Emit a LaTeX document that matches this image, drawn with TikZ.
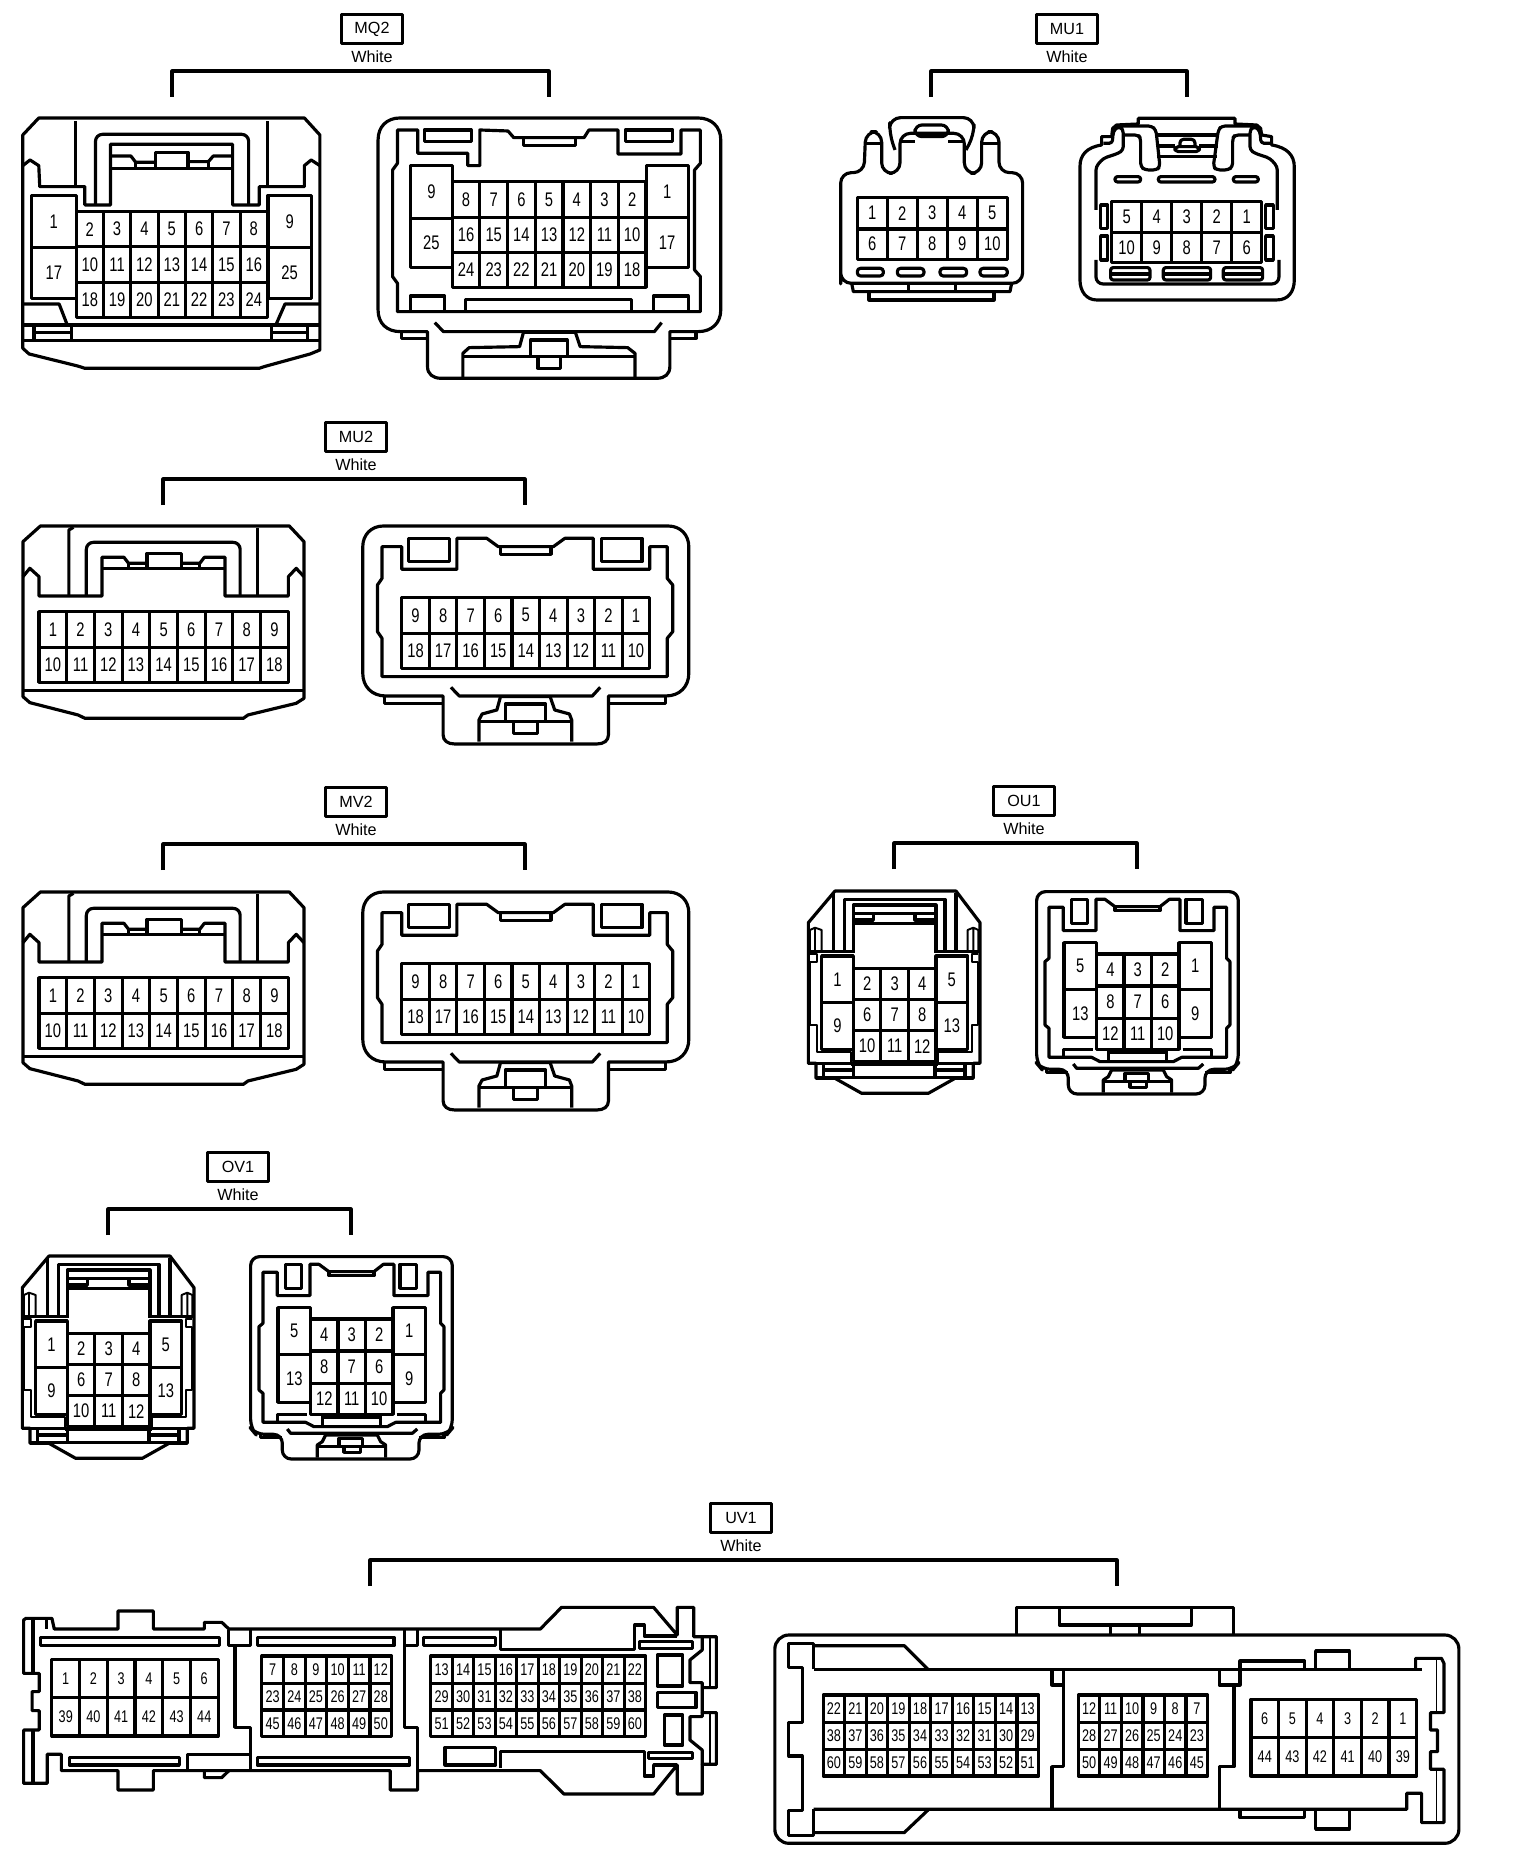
\documentclass[tikz,border=0pt]{standalone}
\usepackage{fontspec}
\setmainfont{Liberation Sans}
\newfontfamily\pinfont[FakeStretch=0.75]{Liberation Sans}
\usetikzlibrary{positioning}

\tikzset{
    pin/.style = {inner sep=0pt, font=\pinfont\fontsize{5.6pt}{6pt}\selectfont},
    smallpin/.style = {inner sep=0pt, font=\pinfont\fontsize{4.8pt}{5pt}\selectfont},
    tagbox/.style = {draw, minimum width=0.61cm, minimum height=0.29cm, inner sep=0pt, font=\fontsize{4.6pt}{5pt}\selectfont},
    tagnote/.style = {inner sep=0pt, font=\fontsize{4.6pt}{5pt}\selectfont},
    thinline/.style = {line width=0.55pt},
    mqtwo/.style = {xscale=0.4847, yscale=0.3333},
    mutwo/.style = {xscale=0.4592, yscale=0.3333},
    third/.style = {scale=0.3333},
    uvleft/.style = {xscale=0.4719, yscale=0.3333},
    uvright/.style = {xscale=0.4975, yscale=0.3333},
}

% one row of pin cells: x, y, cell width, cell height, pins
\newcommand{\pinrow}[5]{
    \foreach \p [count=\i from 0] in {#5}
        \draw ({#1+\i*#3},#2) rectangle ++(#3,#4) node[midway, pin] {\p};
}
% connector name, box x, box y, left end, right end
\newcommand{\conntag}[5]{
    \node[tagbox] (#1) at (#2,#3) {#1};
    \node[tagnote, below=1.1pt of #1.south] (#1note) {White};
    \coordinate (#1l) at (#4,#3+68);
    \coordinate (#1r) at (#5,#3+68);
    \draw (#1l) -- ++(0,-26) -| (#1r);
}

% MU2 and MV2 share these two
\newcommand{\nineplug}{
    \draw (88,318) -- (630,318) -- (662,365) -- (662,835) -- (645,850) -- (540,885) -- (530,895) -- (185,895) -- (170,885) -- (65,848) -- (50,830) -- (50,365) -- cycle;
    \draw (50,470) -- (65,445) -- (85,470) -- (85,528) -- (222,528) -- (222,412) -- (270,412) -- (280,430) -- (320,430);
    \draw (150,525) -- (150,330) -- (160,322);
    \draw (560,525) -- (560,325);
    \draw[rounded corners=2pt] (188,525) -- (188,367) -- (523,367) -- (523,525);
    \draw (320,445) -- (320,400) -- (395,400) -- (395,445);
    \draw (395,430) -- (435,430) -- (445,412) -- (490,412) -- (490,528) -- (628,528) -- (628,470) -- (645,445) -- (662,470);
    \draw (222,445) -- (490,445);
    \draw (280,430) -- (280,445) (435,430) -- (435,445);
    \pinrow{85}{575}{60.3}{107}{1,2,3,4,5,6,7,8,9}
    \pinrow{85}{682}{60.3}{105}{10,11,12,13,14,15,16,17,18}
    \draw (50,812) -- (662,812);
}
\newcommand{\ninesocket}{
    \draw (835,318) -- (1455,318) .. controls (1482,318) and (1500,345) .. (1500,380) -- (1500,760) .. controls (1500,800) and (1480,828) .. (1450,828) -- (1325,828) -- (1325,945) .. controls (1325,962) and (1315,972) .. (1300,972) -- (990,972) .. controls (975,972) and (965,962) .. (965,945) -- (965,828) -- (840,828) .. controls (810,828) and (790,800) .. (790,760) -- (790,380) .. controls (790,345) and (808,318) .. (835,318) -- cycle;
    \draw (838,828) -- (838,850) -- (965,850);
    \draw (1325,850) -- (1450,850) -- (1450,828);
    \draw (832,770) -- (1453,770) -- (1453,655) -- (1465,635) -- (1465,495) -- (1453,475) -- (1453,380) -- (1415,380) -- (1415,448) -- (1292,448) -- (1292,355) -- (1230,355) -- (1205,380) -- (1085,380) -- (1060,355) -- (995,355) -- (995,448) -- (875,448) -- (875,380) -- (832,380) -- (832,475) -- (822,495) -- (822,635) -- (832,655) -- cycle;
    \draw (890,355) rectangle (978,425);
    \draw (1310,355) rectangle (1398,425);
    \draw (1090,382) -- (1090,403) -- (1200,403) -- (1200,382);
    \pinrow{875}{532}{60}{108}{9,8,7,6,5,4,3,2,1}
    \pinrow{875}{640}{60}{105}{18,17,16,15,14,13,12,11,10}
    \draw (982,802) -- (1000,828) -- (1290,828) -- (1307,802);
    \draw (1043,965) -- (1043,900) -- (1050,882) -- (1082,870) -- (1090,830) -- (1198,830) -- (1208,870) -- (1240,882) -- (1245,900) -- (1245,965);
    \draw (1043,905) -- (1245,905);
    \draw (1100,905) -- (1100,852) -- (1188,852) -- (1188,905);
    \draw (1118,908) -- (1118,940) -- (1170,940) -- (1170,908);
}
% OU1 and OV1 share these two
\newcommand{\fiveplug}{
    \draw (105,33) -- (468,33) -- (540,128) -- (540,550) -- (520,550) -- (520,595) -- (465,595) -- (385,640) -- (185,640) -- (105,595) -- (48,595) -- (48,550) -- (25,550) -- (25,128) -- cycle;
    \draw (100,215) -- (100,40) (468,215) -- (468,40);
    \draw (133,215) -- (133,58) -- (435,58) -- (435,215);
    \draw (160,218) -- (160,75) -- (408,75) -- (408,218);
    \draw (160,130) -- (408,130);
    \draw (160,100) -- (408,100);
    \draw (220,100) -- (220,120) -- (160,120);
    \draw (345,100) -- (345,120) -- (408,120);
    \draw[thinline] (30,215) -- (30,150) -- (45,143) -- (65,150) -- (65,215) (45,143) -- (45,215);
    \draw[thinline] (535,215) -- (535,150) -- (520,143) -- (503,150) -- (503,215) (520,143) -- (520,215);
    \draw (25,215) -- (160,215) (408,215) -- (540,215);
    \draw[thinline] (30,222) -- (50,222) -- (50,245) -- (30,245) -- (30,435) -- (50,435) -- (50,515) -- (152,515) -- (152,550);
    \draw[thinline] (535,222) -- (515,222) -- (515,245) -- (535,245) -- (535,435) -- (515,435) -- (515,515) -- (413,515) -- (413,550);
    \draw (25,550) -- (152,550) (413,550) -- (540,550) (152,552) -- (413,552);
    \draw (48,592) -- (520,592);
    \draw (70,555) -- (70,590) (160,555) -- (160,590) (405,555) -- (405,590) (495,555) -- (495,590);
    \draw (70,570) -- (160,570) (405,570) -- (495,570);
    \pinrow{65}{228}{95}{140}{1}
    \pinrow{65}{368}{95}{140}{9}
    \pinrow{408}{228}{95}{140}{5}
    \pinrow{408}{368}{95}{140}{13}
    \pinrow{160}{265}{82.7}{93}{2,3,4}
    \pinrow{160}{358}{82.7}{94}{6,7,8}
    \pinrow{160}{452}{82.7}{93}{10,11,12}
}
\newcommand{\fivesocket}{
    \draw[rounded corners=2.5pt] (770,365) -- (1375,365) -- (1375,880) -- (1360,898) -- (1275,898) -- (1275,972) -- (865,972) -- (865,898) -- (785,898) -- (770,880) -- cycle;
    \draw (800,898) -- (800,908) -- (865,908);
    \draw (1275,908) -- (1350,908) -- (1350,898);
    \draw (807,862) -- (935,862) -- (960,875) -- (1180,875) -- (1205,862) -- (1340,862) -- (1340,775) -- (1350,765) -- (1350,575) -- (1340,565) -- (1340,412) -- (1302,412) -- (1302,482) -- (1200,482) -- (1200,388) -- (1168,388) -- (1140,410) -- (1005,410) -- (975,388) -- (948,388) -- (948,482) -- (850,482) -- (850,412) -- (807,412) -- (807,565) -- (795,575) -- (795,765) -- (807,775) -- cycle;
    \draw (875,388) rectangle (922,460);
    \draw (1218,388) rectangle (1268,460);
    \draw (1005,410) -- (1005,422) -- (1140,422) -- (1140,410);
    \pinrow{852}{518}{98}{140}{5}
    \pinrow{852}{658}{98}{144}{13}
    \pinrow{1197}{518}{98}{140}{1}
    \pinrow{1197}{658}{98}{144}{9}
    \pinrow{950}{552}{82.3}{96}{4,3,2}
    \pinrow{950}{648}{82.3}{97}{8,7,6}
    \pinrow{950}{745}{82.3}{93}{12,11,10}
    \draw (850,862) -- (850,838) -- (940,838) (1208,838) -- (1295,838) -- (1295,862);
    \draw (985,875) -- (985,846) -- (1160,846) -- (1160,875);
    \draw (880,882) -- (890,895) -- (1255,895) -- (1270,882);
    \draw (970,968) -- (970,930) -- (985,920) -- (995,900) -- (1150,900) -- (1160,920) -- (1175,930) -- (1175,968);
    \draw (970,935) -- (1175,935);
    \draw (1035,935) -- (1035,910) -- (1105,910) -- (1105,935);
    \draw (1050,935) -- (1050,952) -- (1100,952) -- (1100,935);
}

\begin{document}
\begin{tikzpicture}[x=0.01cm, y=-0.01cm, line width=0.9pt, line join=round]
    \useasboundingbox (0,0) rectangle (1520,1876);

    \conntag{MQ2}{372}{29}{172}{549}
    \conntag{MU1}{1067}{29}{931}{1187}
    \conntag{MU2}{356}{437}{163}{525}
    \conntag{MV2}{356}{802}{163}{525}
    \conntag{OU1}{1024}{801}{894}{1137}
    \conntag{OV1}{238}{1167}{108}{351}
    \conntag{UV1}{741}{1518}{370}{1117}

    % MQ2
    \begin{scope}[mqtwo]
        \draw (80,354) -- (628,354) -- (660,405) -- (660,1050) -- (640,1062) -- (545,1100) -- (535,1105) -- (175,1105) -- (160,1098) -- (60,1062) -- (47,1045) -- (47,405) -- cycle;
        \draw (47,497) -- (62,480) -- (80,497) -- (82,560) -- (175,560) -- (175,615) -- (228,615) -- (228,433) -- (480,433) -- (480,615) -- (535,615) -- (535,560) -- (628,560) -- (628,497) -- (642,480) -- (660,497);
        \draw (155,560) -- (155,362) (552,560) -- (552,362);
        \draw[rounded corners=2pt] (197,615) -- (197,403) -- (513,403) -- (513,615);
        \draw (228,468) -- (270,468) -- (280,487) -- (320,487);
        \draw (320,505) -- (320,457) -- (388,457) -- (388,505);
        \draw (388,485) -- (430,485) -- (440,468) -- (480,468);
        \draw (228,505) -- (480,505);
        \draw (280,487) -- (280,505) (430,485) -- (430,505);
        \pinrow{65}{586}{92}{156}{1}
        \pinrow{65}{742}{92}{153}{17}
        \pinrow{553}{586}{89}{156}{9}
        \pinrow{553}{742}{89}{153}{25}
        \pinrow{157}{635}{56.4}{105}{2,3,4,5,6,7,8}
        \pinrow{157}{740}{56.4}{108}{10,11,12,13,14,15,16}
        \pinrow{157}{848}{56.4}{104}{18,19,20,21,22,23,24}
        \draw (47,912) -- (122,912) -- (138,972);
        \draw (660,912) -- (588,912) -- (570,972);
        \draw (47,975) -- (660,975) (47,1022) -- (660,1022);
        \draw (70,975) -- (70,1022) (147,975) -- (147,1022) (560,975) -- (560,1022) (635,975) -- (635,1022);
        \draw (75,998) -- (147,998) (560,998) -- (635,998);

        \draw (825,354) -- (1440,354) .. controls (1468,354) and (1487,380) .. (1487,420) -- (1487,930) .. controls (1487,970) and (1468,995) .. (1440,995) -- (1382,995) -- (1382,1100) .. controls (1382,1122) and (1372,1135) .. (1355,1135) -- (910,1135) .. controls (893,1135) and (882,1122) .. (882,1100) -- (882,995) -- (826,995) .. controls (798,995) and (780,970) .. (780,930) -- (780,420) .. controls (780,380) and (798,354) .. (825,354) -- cycle;
        \draw (828,995) -- (828,1015) -- (882,1015) (1382,1015) -- (1436,1015) -- (1436,995);
        \draw (820,935) -- (1445,935) -- (1445,830) -- (1433,810) -- (1433,510) -- (1445,490) -- (1445,390) -- (1405,390) -- (1405,462) -- (1275,462) -- (1275,390) -- (1215,390) -- (1205,413) -- (1060,413) -- (1048,393) -- (990,390) -- (990,497) -- (965,497) -- (965,460) -- (862,460) -- (862,390) -- (820,390) -- (820,490) -- (810,510) -- (810,830) -- (820,850) -- cycle;
        \draw (875,390) rectangle (972,424);
        \draw (1290,390) rectangle (1388,424);
        \draw (1080,415) -- (1080,437) -- (1187,437) -- (1187,415);
        \draw (847,935) -- (847,888) -- (917,888) -- (917,935);
        \draw (1348,935) -- (1348,888) -- (1420,888) -- (1420,935);
        \draw (960,935) -- (960,898) -- (1303,898) -- (1303,935);
        \pinrow{847}{497}{86}{158}{9}
        \pinrow{847}{655}{86}{148}{25}
        \pinrow{1333}{497}{87}{155}{1}
        \pinrow{1333}{652}{87}{151}{17}
        \pinrow{933}{545}{57.1}{107}{8,7,6,5,4,3,2}
        \pinrow{933}{652}{57.1}{106}{16,15,14,13,12,11,10}
        \pinrow{933}{758}{57.1}{104}{24,23,22,21,20,19,18}
        \draw (897,968) -- (915,995) -- (1350,995) -- (1365,968);
        \draw (955,1135) -- (955,1060) -- (968,1043) -- (1072,1040) -- (1080,997) -- (1187,997) -- (1197,1040) -- (1295,1043) -- (1310,1060) -- (1310,1135);
        \draw (955,1070) -- (1310,1070);
        \draw (1095,1068) -- (1095,1020) -- (1170,1020) -- (1170,1068);
        \draw (1110,1070) -- (1110,1105) -- (1157,1105) -- (1157,1070);
    \end{scope}

    % MU1
    \begin{scope}[shift={(800,0)}, third]
        \draw[rounded corners=3pt] (122,820) -- (122,518) -- (192,518) -- (197,395) -- (245,395) -- (245,520) -- (300,520) -- (300,400) -- (493,400) -- (493,520) -- (545,520) -- (545,395) -- (597,395) -- (597,518) -- (668,518) -- (668,850) -- (122,850) -- cycle;
        \draw[rounded corners=3pt] (285,450) -- (268,400) -- (270,353) -- (522,353) -- (522,405) -- (498,450);
        \draw[rounded corners=2pt] (345,375) rectangle (445,410);
        \draw (300,425) -- (345,425) (445,425) -- (493,425);
        \draw (195,430) -- (245,430) (545,430) -- (597,430);
        \pinrow{172}{592}{90}{95}{1,2,3,4,5}
        \pinrow{172}{687}{90}{91}{6,7,8,9,10}
        \draw[rounded corners=0.9pt] (172,805) rectangle (250,828);
        \draw[rounded corners=0.9pt] (292,805) rectangle (372,828);
        \draw[rounded corners=0.9pt] (420,805) rectangle (500,828);
        \draw[rounded corners=0.9pt] (540,805) rectangle (622,828);
        \draw (155,850) -- (160,875) -- (630,875) -- (635,850);
        \draw (325,852) -- (325,875) (467,852) -- (467,875);
        \draw (207,875) -- (207,900) -- (582,900) -- (582,875);

        \draw (890,900) -- (1430,900) .. controls (1465,900) and (1483,875) .. (1483,840) -- (1483,500) .. controls (1483,465) and (1460,442) .. (1415,435) -- (1415,410) -- (1385,405) -- (1382,385) -- (1370,375) -- (1305,372) -- (1305,355) -- (1015,355) -- (1015,372) -- (950,375) -- (938,385) -- (935,410) -- (905,410) -- (905,435) .. controls (860,442) and (840,465) .. (840,500) -- (840,840) .. controls (840,875) and (860,900) .. (890,900) -- cycle;
        \begin{scope}[shift={(810,330)}, rounded corners=1pt]
            \draw (78,300) -- (78,170) -- (100,145) -- (145,130) -- (160,120) -- (160,60) -- (150,50) -- (135,55) -- (128,75) -- (128,100) -- (100,100);
            \draw (622,300) -- (622,170) -- (600,145) -- (555,130) -- (540,120) -- (540,60) -- (550,50) -- (565,55) -- (572,75) -- (572,100) -- (605,100);
            \draw (160,75) -- (205,75) -- (212,85) -- (212,170) -- (225,180) -- (260,180) -- (270,170) -- (258,60) -- (245,48) -- (135,48);
            \draw (540,75) -- (495,75) -- (488,85) -- (488,170) -- (475,180) -- (440,180) -- (430,170) -- (445,60) -- (455,48) -- (565,48);
            \draw (260,75) -- (445,75) (260,140) -- (440,140);
            \draw (260,108) -- (315,108) (388,108) -- (445,108);
            \draw (315,110) rectangle (388,125);
            \draw (330,110) -- (330,88) -- (375,88) -- (375,110);
        \end{scope}
        \draw[rounded corners=0.7pt] (945,530) rectangle (1022,546);
        \draw[rounded corners=0.7pt] (1075,530) rectangle (1245,546);
        \draw[rounded corners=0.7pt] (1300,530) rectangle (1375,546);
        \draw (902,615) rectangle (923,685);
        \draw (902,708) rectangle (923,780);
        \draw (1397,615) rectangle (1420,685);
        \draw (1397,708) rectangle (1420,780);
        \pinrow{935}{605}{90}{92}{5,4,3,2,1}
        \pinrow{935}{697}{90}{90}{10,9,8,7,6}
        \draw[rounded corners=0.7pt] (932,803) rectangle (1050,840);
        \draw[rounded corners=0.7pt] (1090,803) rectangle (1232,840);
        \draw[rounded corners=0.7pt] (1270,803) rectangle (1388,840);
        \draw (932,822) -- (1050,822) (1090,822) -- (1232,822) (1270,822) -- (1388,822);
        \draw[rounded corners=2pt] (888,780) -- (888,852) -- (1437,852) -- (1437,780);
    \end{scope}

    % MU2, MV2
    \begin{scope}[shift={(0,420)}, mutwo]
        \nineplug
        \ninesocket
    \end{scope}
    \begin{scope}[shift={(0,786)}, mutwo]
        \nineplug
        \ninesocket
    \end{scope}

    % OU1, OV1
    \begin{scope}[shift={(800,880)}, third]
        \fiveplug
    \end{scope}
    \begin{scope}[shift={(780,770)}, third]
        \fivesocket
    \end{scope}
    \begin{scope}[shift={(14,1245)}, third]
        \fiveplug
    \end{scope}
    \begin{scope}[shift={(-6,1135)}, third]
        \fivesocket
    \end{scope}

    % UV1
    \begin{scope}[shift={(0,1500)}, uvleft, pin/.style={smallpin}]
        \draw (50,360) -- (55,355) -- (110,355) -- (115,387) -- (250,387) -- (250,333) -- (325,333) -- (325,387) -- (433,387) -- (433,367) -- (470,367) -- (485,387) -- (1145,387) -- (1190,322) -- (1385,322) -- (1435,405) -- (1435,322) -- (1470,322) -- (1470,410) -- (1518,410) -- (1518,563) -- (1488,563) -- (1488,638) -- (1518,638) -- (1518,793) -- (1488,793) -- (1488,882) -- (1435,882) -- (1435,795) -- (1385,882) -- (1195,882) -- (1145,812) -- (885,812) -- (885,870) -- (827,870) -- (827,812) -- (325,812) -- (325,870) -- (250,870) -- (250,812) -- (130,812) -- (130,763) -- (100,763) -- (100,850) -- (50,850) -- (50,690) -- (83,690) -- (83,632) -- (68,632) -- (68,575) -- (83,575) -- (83,520) -- (50,520) -- cycle;
        \draw (70,358) -- (70,520) (70,690) -- (70,850) (98,358) -- (98,387);
        \draw (433,812) -- (433,833) -- (470,833) -- (485,812);
        \draw (85,412) rectangle (465,437);
        \draw (147,772) rectangle (380,795);
        \draw (545,412) rectangle (835,437);
        \draw (545,772) rectangle (868,795);
        \draw (897,412) rectangle (1050,437);
        \draw (485,390) -- (485,437) -- (530,437) -- (530,390);
        \draw (498,437) -- (498,682) -- (530,682) -- (530,812);
        \draw (397,808) -- (397,763) -- (530,763);
        \draw (858,390) -- (858,682) -- (885,682) -- (885,812);
        \draw (858,437) -- (885,437) -- (885,390);
        \pinrow{110}{478}{58.7}{115}{1,2,3,4,5,6}
        \pinrow{110}{593}{58.7}{115}{39,40,41,42,43,44}
        \pinrow{555}{468}{45.8}{82}{7,8,9,10,11,12}
        \pinrow{555}{550}{45.8}{80}{23,24,25,26,27,28}
        \pinrow{555}{630}{45.8}{80}{45,46,47,48,49,50}
        \pinrow{913}{468}{45.5}{82}{13,14,15,16,17,18,19,20,21,22}
        \pinrow{913}{550}{45.5}{80}{29,30,31,32,33,34,35,36,37,38}
        \pinrow{913}{630}{45.5}{80}{51,52,53,54,55,56,57,58,59,60}
        \draw (1060,390) -- (1060,448) -- (1345,448) -- (1345,375) -- (1365,375) -- (1365,408) -- (1435,408);
        \draw (1060,805) -- (1060,755) -- (1365,755) -- (1365,828) -- (1385,828) -- (1385,795) -- (1435,795);
        \draw (943,742) rectangle (1050,795);
        \draw (1355,425) rectangle (1467,445);
        \draw (1375,757) rectangle (1467,775);
        \draw (1393,465) rectangle (1447,558);
        \draw (1393,577) rectangle (1475,623);
        \draw (1408,645) rectangle (1447,735);
        \draw (1488,410) -- (1488,450) -- (1462,480) -- (1462,548) -- (1488,548) -- (1488,563);
        \draw (1488,638) -- (1488,650) -- (1462,650) -- (1462,720) -- (1488,750) -- (1488,793);
        \draw[thinline] (1505,415) -- (1505,563) (1505,640) -- (1505,790);
    \end{scope}
    \begin{scope}[shift={(740,1500)}, uvright, pin/.style={smallpin}]
        \draw[rounded corners=4pt] (70,405) rectangle (1445,1030);
        \draw (555,405) -- (555,322) -- (992,322) -- (992,405);
        \draw (642,325) -- (642,375) -- (907,375) -- (907,325);
        \draw (745,375) -- (745,405) (803,375) -- (803,405);
        \draw (148,508) -- (1370,508);
        \draw (378,508) -- (330,437) -- (148,437);
        \draw (148,508) -- (148,430) -- (98,430) -- (98,503) -- (125,503) -- (125,668) -- (98,668) -- (98,768) -- (125,768) -- (125,932) -- (98,932) -- (98,1007) -- (148,1007) -- (148,928);
        \draw (148,998) -- (330,998) -- (378,930);
        \draw (148,928) -- (1340,928) -- (1340,880) -- (1370,880) -- (1370,968) -- (1415,968) -- (1415,808) -- (1388,808) -- (1388,755) -- (1402,755) -- (1402,690) -- (1388,690) -- (1388,638) -- (1415,638) -- (1415,490) -- (1410,475) -- (1358,475) -- (1358,508);
        \draw[thinline] (1400,480) -- (1400,638) (1400,810) -- (1400,968);
        \draw (627,510) -- (627,555) -- (650,555) -- (650,510);
        \draw (650,555) -- (650,800) -- (627,800) -- (627,928);
        \draw (963,510) -- (963,555) -- (1005,555) -- (1005,510);
        \draw (993,555) -- (993,800) -- (963,800) -- (963,928);
        \draw (1005,508) -- (1005,483) -- (1135,483) -- (1135,508);
        \draw (1157,508) -- (1157,453) -- (1225,453) -- (1225,508);
        \draw (1005,930) -- (1005,953) -- (1135,953) -- (1135,930);
        \draw (1157,930) -- (1157,987) -- (1225,987) -- (1225,930);
        \pinrow{167}{585}{43.3}{83}{22,21,20,19,18,17,16,15,14,13}
        \pinrow{167}{668}{43.3}{80}{38,37,36,35,34,33,32,31,30,29}
        \pinrow{167}{748}{43.3}{80}{60,59,58,57,56,55,54,53,52,51}
        \pinrow{680}{585}{43.3}{83}{12,11,10,9,8,7}
        \pinrow{680}{668}{43.3}{80}{28,27,26,25,24,23}
        \pinrow{680}{748}{43.3}{80}{50,49,48,47,46,45}
        \pinrow{1027}{598}{55.5}{114}{6,5,4,3,2,1}
        \pinrow{1027}{712}{55.5}{116}{44,43,42,41,40,39}
    \end{scope}
\end{tikzpicture}
\end{document}
